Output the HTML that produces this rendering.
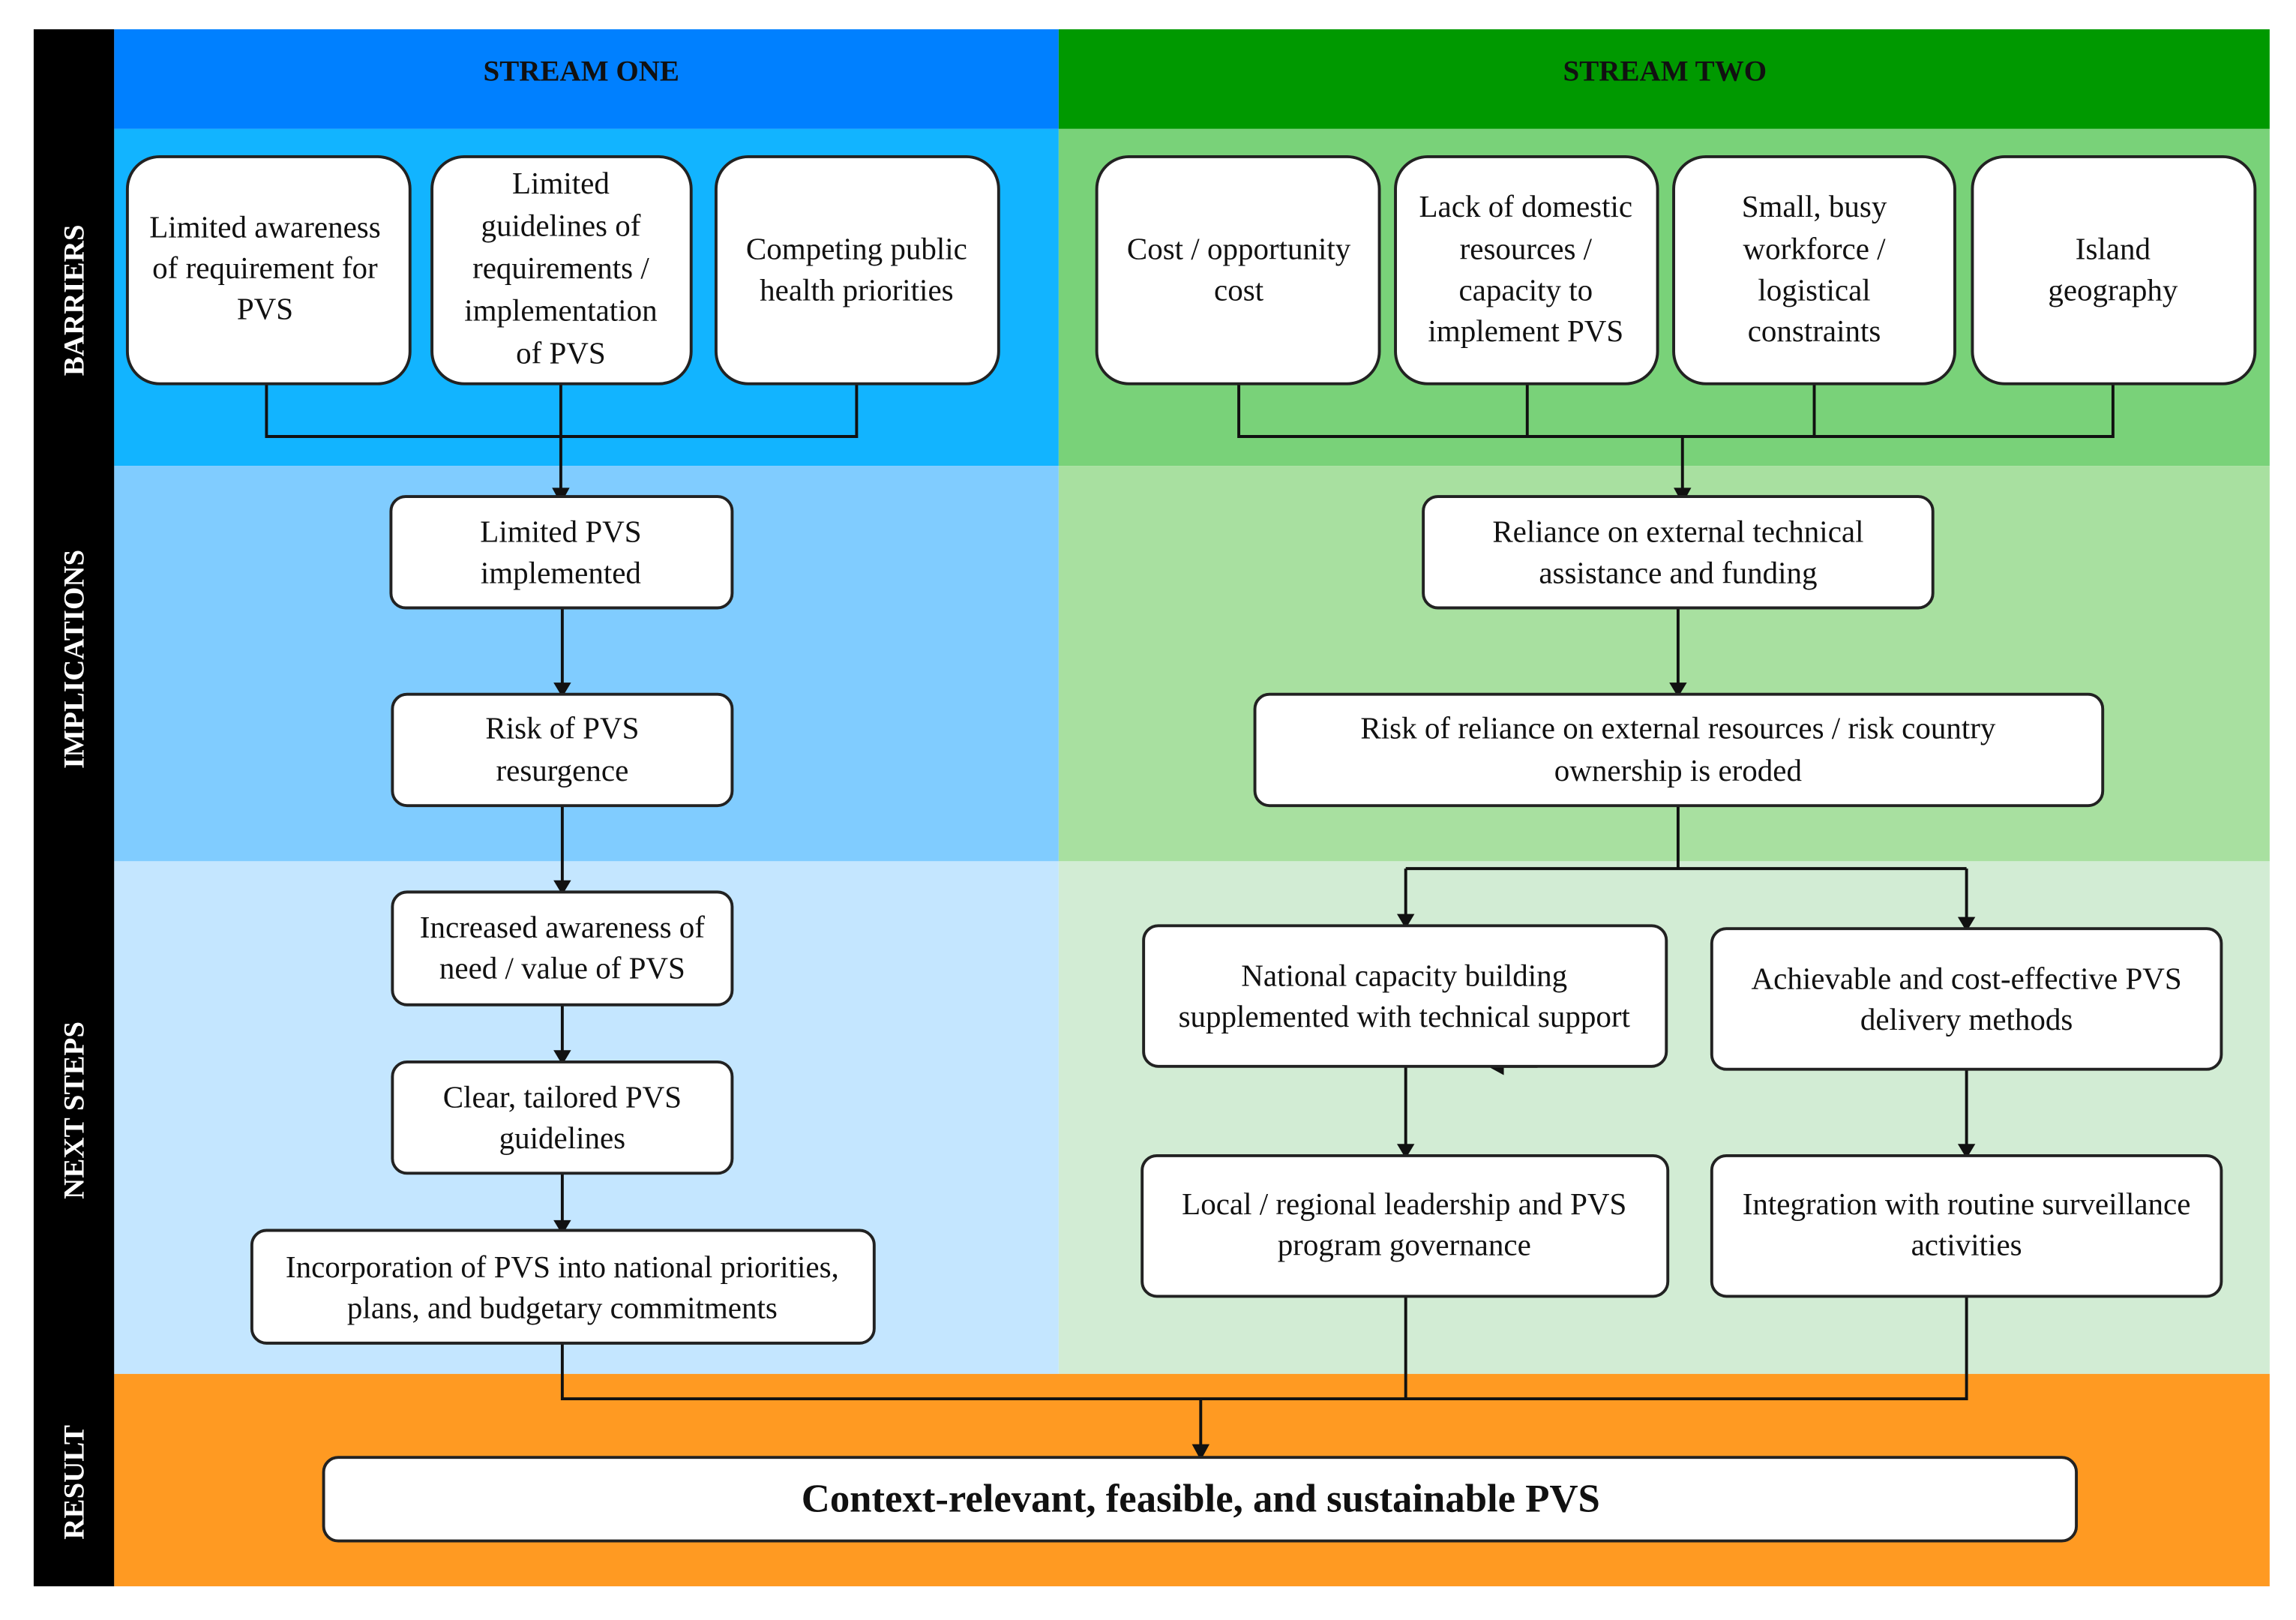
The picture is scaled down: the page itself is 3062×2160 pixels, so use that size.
<!DOCTYPE html>
<html><head><meta charset="utf-8"><style>
html,body{margin:0;padding:0;background:#fff}
svg{display:block}
text{font-family:"Liberation Serif",serif;fill:#111}
</style></head><body>
<svg width="3062" height="2160" viewBox="0 0 1568 1106" preserveAspectRatio="none" xmlns="http://www.w3.org/2000/svg">
<defs><marker id="a" markerWidth="10" markerHeight="10" refX="5" refY="9" orient="auto" markerUnits="userSpaceOnUse"><path d="M0,0 L10,0 L5,10 Z" fill="#111" transform="rotate(0)"/></marker>
<marker id="d" markerWidth="12" markerHeight="12" refX="6" refY="11" orient="0" markerUnits="userSpaceOnUse"><path d="M0.5,1 L11.5,1 L6,12 Z" fill="#111"/></marker></defs>
<rect x="0" y="0" width="1568" height="1106" fill="#fff"/>
<rect x="23" y="20" width="55" height="1063" fill="#000"/>
<rect x="78" y="20" width="645" height="68" fill="#0080ff"/>
<rect x="723" y="20" width="827" height="68" fill="#009900"/>
<rect x="78" y="88" width="645" height="230" fill="#12b4ff"/>
<rect x="723" y="88" width="827" height="230" fill="#79d279"/>
<rect x="78" y="318" width="645" height="270" fill="#80ccff"/>
<rect x="723" y="318" width="827" height="270" fill="#a8e0a0"/>
<rect x="78" y="588" width="645" height="350" fill="#c4e6ff"/>
<rect x="723" y="588" width="827" height="350" fill="#d2ecd4"/>
<rect x="78" y="938" width="1472" height="145" fill="#ff9a22"/>
<g font-weight="bold" font-size="20" text-anchor="middle">
<text x="397" y="55">STREAM ONE</text><text x="1137" y="55">STREAM TWO</text>
</g>
<g font-weight="bold" font-size="20" fill="#fff" text-anchor="middle">
<text transform="translate(57,205) rotate(-90)" style="fill:#fff">BARRIERS</text>
<text transform="translate(57,450) rotate(-90)" style="fill:#fff">IMPLICATIONS</text>
<text transform="translate(57,758) rotate(-90)" style="fill:#fff">NEXT STEPS</text>
<text transform="translate(57,1012) rotate(-90)" style="fill:#fff">RESULT</text>
</g>
<g fill="none" stroke="#111" stroke-width="2">
<path d="M182,262 V298 H585 V262 M383,262 V334"/>
<path d="M846,262 V298 H1443 V262 M1043,262 V298 M1239,262 V298 M1149,298 V334"/>
<path d="M384,415 V468 M384,550 V603 M384,686 V720 M384,801 V836"/>
<path d="M1146,415 V468 M1146,550 V593 M960,593 H1343 M960,593 V628 M1343,593 V630"/>
<path d="M960,728 V784 M1343,730 V784 M1050,728 H1024"/>
<path d="M384,917 V955 H1343 V885 M960,885 V955 M820,955 V990"/>
</g>
<g fill="#111">
<path d="M377,333 L389,333 L383,344 Z"/><path d="M1143,333 L1155,333 L1149,344 Z"/>
<path d="M378,466 L390,466 L384,476 Z"/><path d="M378,601 L390,601 L384,611 Z"/>
<path d="M378,717 L390,717 L384,727 Z"/><path d="M378,833 L390,833 L384,843 Z"/>
<path d="M1140,466 L1152,466 L1146,476 Z"/>
<path d="M954,624 L966,624 L960,634 Z"/><path d="M1337,626 L1349,626 L1343,636 Z"/>
<path d="M954,781 L966,781 L960,791 Z"/><path d="M1337,781 L1349,781 L1343,791 Z"/>
<path d="M1016,728 L1027,722 L1027,734 Z"/>
<path d="M814,986 L826,986 L820,997 Z"/>
</g>
<g fill="#fff" stroke="#222" stroke-width="2">
<rect x="87" y="107" width="193" height="155" rx="22"/>
<rect x="295" y="107" width="177" height="155" rx="22"/>
<rect x="489" y="107" width="193" height="155" rx="22"/>
<rect x="749" y="107" width="193" height="155" rx="22"/>
<rect x="953" y="107" width="179" height="155" rx="22"/>
<rect x="1143" y="107" width="192" height="155" rx="22"/>
<rect x="1347" y="107" width="193" height="155" rx="22"/>
<rect x="267" y="339" width="233" height="76" rx="10"/>
<rect x="268" y="474" width="232" height="76" rx="10"/>
<rect x="268" y="609" width="232" height="77" rx="10"/>
<rect x="268" y="725" width="232" height="76" rx="10"/>
<rect x="172" y="840" width="425" height="77" rx="10"/>
<rect x="972" y="339" width="348" height="76" rx="10"/>
<rect x="857" y="474" width="579" height="76" rx="10"/>
<rect x="781" y="632" width="357" height="96" rx="10"/>
<rect x="1169" y="634" width="348" height="96" rx="10"/>
<rect x="780" y="789" width="359" height="96" rx="10"/>
<rect x="1169" y="789" width="348" height="96" rx="10"/>
<rect x="221" y="995" width="1197" height="57" rx="10"/>
</g>
<g font-size="21" text-anchor="middle">
<text x="181" y="162">Limited awareness</text><text x="181" y="190">of requirement for</text><text x="181" y="218">PVS</text>
<text x="383" y="132">Limited</text><text x="383" y="161">guidelines of</text><text x="383" y="190">requirements /</text><text x="383" y="219">implementation</text><text x="383" y="248">of PVS</text>
<text x="585" y="177">Competing public</text><text x="585" y="205">health priorities</text>
<text x="846" y="177">Cost / opportunity</text><text x="846" y="205">cost</text>
<text x="1042" y="148">Lack of domestic</text><text x="1042" y="177">resources /</text><text x="1042" y="205">capacity to</text><text x="1042" y="233">implement PVS</text>
<text x="1239" y="148">Small, busy</text><text x="1239" y="177">workforce /</text><text x="1239" y="205">logistical</text><text x="1239" y="233">constraints</text>
<text x="1443" y="177">Island</text><text x="1443" y="205">geography</text>
<text x="383" y="370">Limited PVS</text><text x="383" y="398">implemented</text>
<text x="384" y="504">Risk of PVS</text><text x="384" y="533">resurgence</text>
<text x="384" y="640">Increased awareness of</text><text x="384" y="668">need / value of PVS</text>
<text x="384" y="756">Clear, tailored PVS</text><text x="384" y="784">guidelines</text>
<text x="384" y="872">Incorporation of PVS into national priorities,</text><text x="384" y="900">plans, and budgetary commitments</text>
<text x="1146" y="370">Reliance on external technical</text><text x="1146" y="398">assistance and funding</text>
<text x="1146" y="504">Risk of reliance on external resources / risk country</text><text x="1146" y="533">ownership is eroded</text>
<text x="959" y="673">National capacity building</text><text x="959" y="701">supplemented with technical support</text>
<text x="1343" y="675">Achievable and cost-effective PVS</text><text x="1343" y="703">delivery methods</text>
<text x="959" y="829">Local / regional leadership and PVS</text><text x="959" y="857">program governance</text>
<text x="1343" y="829">Integration with routine surveillance</text><text x="1343" y="857">activities</text>
<text x="820" y="1032" font-size="27" font-weight="bold">Context-relevant, feasible, and sustainable PVS</text>
</g>
</svg>
</body></html>
